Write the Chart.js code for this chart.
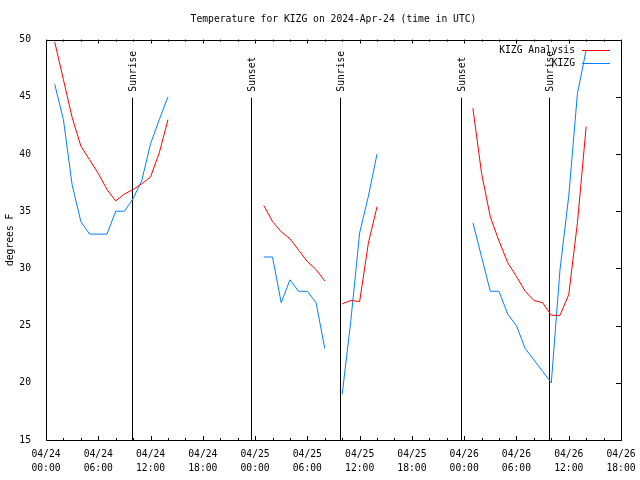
<!DOCTYPE html>
<html>
<head>
<meta charset="utf-8">
<script src="https://cdn.jsdelivr.net/npm/chart.js@4.4.1/dist/chart.umd.min.js"></script>
<style>
  html, body { margin: 0; padding: 0; background: #fff; }
  #wrap { width: 640px; height: 480px; }
</style>
</head>
<body>
<div id="wrap"><canvas id="chartTemp" width="640" height="480"></canvas></div>
<script>
// hours since 2024-04-24 00:00 UTC
const hours = [
  1, 2, 3, 4, 5, 6, 7, 8, 9, 10, 11, 12, 13, 14,
  25, 26, 27, 28, 29, 30, 31, 32,
  34, 35, 36, 37, 38,
  49, 50, 51, 52, 53, 54, 55, 56, 57, 58, 59, 60, 61, 62
];
const analysisTemps = [
  49.8, 46.5, 43.2, 40.7, 39.5, 38.3, 36.9, 35.9, 36.5, 36.9, 37.4, 38.0, 40.1, 43.0,
  35.5, 34.1, 33.2, 32.6, 31.6, 30.6, 29.9, 28.9,
  26.9, 27.2, 27.1, 32.2, 35.4,
  44.0, 38.3, 34.5, 32.4, 30.5, 29.3, 28.0, 27.2, 27.0, 25.9, 25.9, 27.7, 34.0, 42.4
];
const stationTemps = [
  46.1, 43.0, 37.3, 34.1, 33.0, 33.0, 33.0, 35.0, 35.0, 36.1, 37.7, 40.9, 43.0, 45.0,
  31.0, 31.0, 27.0, 29.0, 28.0, 28.0, 27.0, 23.0,
  19.0, 25.5, 33.1, 36.3, 40.0,
  34.0, 31.0, 28.0, 28.0, 26.0, 25.0, 23.0, 22.0, 21.0, 20.0, 29.9, 36.3, 45.3, 49.1
];
const xTickDates = ["04/24", "04/24", "04/24", "04/24", "04/25", "04/25", "04/25", "04/25", "04/26", "04/26", "04/26", "04/26"];
const xTickTimes = ["00:00", "06:00", "12:00", "18:00", "00:00", "06:00", "12:00", "18:00", "00:00", "06:00", "12:00", "18:00"];
const yTicks = [15, 20, 25, 30, 35, 40, 45, 50];
const sunHours = [9.91, 23.57, 33.78, 47.67, 57.77];
const sunLabels = ["Sunrise", "Sunset", "Sunrise", "Sunset", "Sunrise"];

const MONO = "'DejaVu Sans Mono', 'Liberation Mono', monospace";
const FONT_SIZE = 9.7;

// null point between separate runs so the line breaks
function toPoints(vals) {
  const pts = [];
  hours.forEach((h, i) => {
    if (i > 0 && h - hours[i - 1] > 1) pts.push({ x: (h + hours[i - 1]) / 2, y: null });
    pts.push({ x: h, y: vals[i] });
  });
  return pts;
}

/* ==================== SUN LINES ==================== */
const sunPlugin = {
  id: "sunLines",
  beforeDatasetsDraw(chart) {
    const { ctx, chartArea: a, scales: { x } } = chart;
    ctx.save();
    ctx.strokeStyle = "#000";
    ctx.fillStyle = "#000";
    ctx.lineWidth = 1;
    ctx.font = `${FONT_SIZE}px ${MONO}`;
    sunHours.forEach((h, i) => {
      const px = Math.round(x.getPixelForValue(h)) + 0.5;
      ctx.beginPath();
      ctx.moveTo(px, a.top + 58);
      ctx.lineTo(px, a.bottom);
      ctx.stroke();
      ctx.save();
      ctx.translate(px + 1, a.top + 52);
      ctx.rotate(-Math.PI / 2);
      ctx.textAlign = "left";
      ctx.textBaseline = "middle";
      ctx.fillText(sunLabels[i], 0, 0);
      ctx.restore();
    });
    ctx.restore();
  },
};

/* ==================== FRAME, TICKS, LEGEND ==================== */
const framePlugin = {
  id: "frame",
  afterDraw(chart) {
    const { ctx, chartArea: a, scales: { x, y } } = chart;
    ctx.save();
    ctx.strokeStyle = "#000";
    ctx.lineWidth = 1;
    ctx.beginPath();
    for (let h = x.min; h <= x.max; h += 2) {
      const px = Math.round(x.getPixelForValue(h)) + 0.5;
      const len = h % 6 === 0 ? 4 : 2;
      ctx.moveTo(px, a.bottom);
      ctx.lineTo(px, a.bottom - len);
      ctx.moveTo(px, a.top);
      ctx.lineTo(px, a.top + len);
    }
    yTicks.forEach((v) => {
      const py = Math.round(y.getPixelForValue(v)) + 0.5;
      ctx.moveTo(a.right, py);
      ctx.lineTo(a.right - 5, py);
    });
    ctx.stroke();
    ctx.strokeRect(
      Math.round(a.left) + 0.5,
      Math.round(a.top) + 0.5,
      Math.round(a.right - a.left),
      Math.round(a.bottom - a.top)
    );

    // legend, top right inside the plot
    ctx.font = `${FONT_SIZE}px ${MONO}`;
    ctx.textAlign = "right";
    ctx.textBaseline = "middle";
    chart.data.datasets.forEach((ds, i) => {
      const ly = Math.round(a.top + 10 + 13 * i) + 0.5;
      ctx.fillStyle = "#000";
      ctx.fillText(ds.label, a.right - 46, ly);
      ctx.strokeStyle = ds.borderColor;
      ctx.beginPath();
      ctx.moveTo(a.right - 39, ly);
      ctx.lineTo(a.right - 11, ly);
      ctx.stroke();
    });
    ctx.restore();
  },
};

const ctxTemp = document.getElementById("chartTemp");
new Chart(ctxTemp, {
  type: "line",
  data: {
    datasets: [
      {
        label: "KIZG Analysis",
        data: toPoints(analysisTemps),
        borderColor: "#ff0000",
        borderWidth: 1,
        pointRadius: 0,
        tension: 0,
        spanGaps: false,
      },
      {
        label: "KIZG",
        data: toPoints(stationTemps),
        borderColor: "#0080ff",
        borderWidth: 1,
        pointRadius: 0,
        tension: 0,
        spanGaps: false,
      },
    ],
  },
  options: {
    responsive: false,
    animation: false,
    devicePixelRatio: 1,
    layout: { padding: { left: 0, right: 19, top: 0, bottom: 0 } },
    plugins: {
      legend: { display: false },
      tooltip: { enabled: false },
      title: {
        display: true,
        text: "Temperature for KIZG on 2024-Apr-24 (time in UTC)",
        fullSize: false,
        color: "#000",
        font: { family: MONO, size: FONT_SIZE, weight: "normal" },
        padding: { top: 14, bottom: 14 },
      },
    },
    scales: {
      x: {
        type: "linear",
        min: 0,
        max: 66,
        grid: { display: false },
        border: { display: false },
        ticks: {
          stepSize: 6,
          autoSkip: false,
          maxRotation: 0,
          padding: -1,
          color: "#000",
          font: { family: MONO, size: FONT_SIZE, lineHeight: "14px" },
          callback: (v) => [xTickDates[v / 6], xTickTimes[v / 6]],
        },
        afterFit: (scale) => {
          scale.height = 40;
          scale.paddingRight = 0;
        },
      },
      y: {
        min: 15,
        max: 50,
        grid: { display: false },
        border: { display: false },
        ticks: {
          stepSize: 5,
          padding: 7,
          color: "#000",
          font: { family: MONO, size: FONT_SIZE },
        },
        title: {
          display: true,
          text: "degrees F",
          color: "#000",
          font: { family: MONO, size: FONT_SIZE },
          padding: { top: 5, bottom: 0 },
        },
        afterFit: (scale) => { scale.width = 46; },
      },
    },
  },
  plugins: [sunPlugin, framePlugin],
});
</script>
</body>
</html>
